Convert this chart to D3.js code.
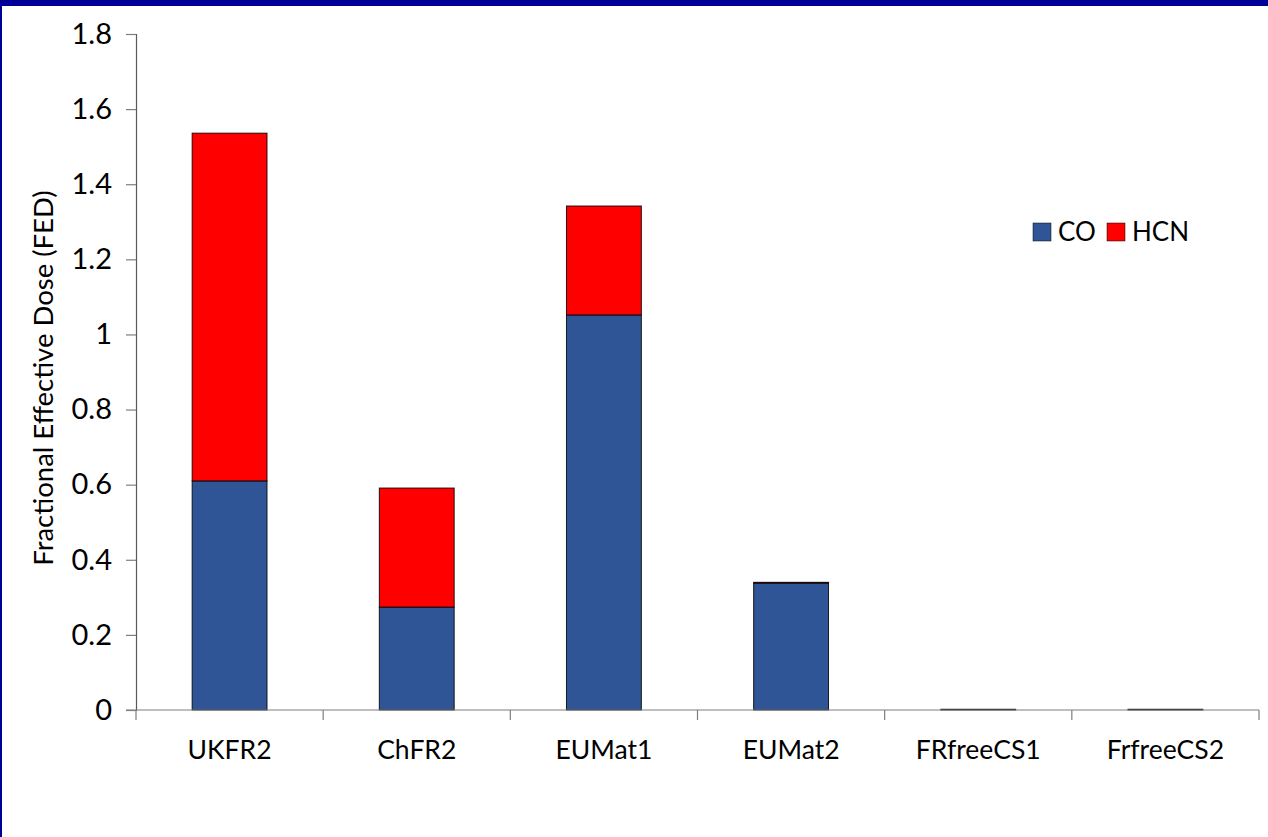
<!DOCTYPE html>
<html>
<head>
<meta charset="utf-8">
<script src="https://cdn.jsdelivr.net/npm/d3@7"></script>
<style>
  html, body { margin: 0; padding: 0; background: #fff; }
  svg { display: block; }
  text { font-family: Lato, "Open Sans", sans-serif; fill: #000; }
</style>
</head>
<body>
<svg id="chart" width="1268" height="837"></svg>
<script>
// Fractional Effective Dose per sample, split into CO and HCN contributions
const categories = ["UKFR2", "ChFR2", "EUMat1", "EUMat2", "FRfreeCS1", "FrfreeCS2"];
const coValues   = [0.610, 0.274, 1.052, 0.338, 0.002, 0.002];
const hcnValues  = [0.926, 0.317, 0.290, 0.002, 0.000, 0.000];
const seriesNames = ["CO", "HCN"];
const seriesColors = ["#2F5597", "#FF0000"];
const yTicks = [0, 0.2, 0.4, 0.6, 0.8, 1, 1.2, 1.4, 1.6, 1.8];

const svg = d3.select("#chart");
const W = 1268, H = 837;

// page frame: navy band on top and left edge
svg.append("rect").attr("x", 0).attr("y", 0).attr("width", W).attr("height", H).attr("fill", "#fff");
svg.append("rect").attr("x", 0).attr("y", 0).attr("width", W).attr("height", 6).attr("fill", "#000099");
svg.append("rect").attr("x", 0).attr("y", 0).attr("width", 2).attr("height", H).attr("fill", "#000099");

const plot = { left: 136, right: 1259, top: 34, bottom: 710 };

const x = d3.scaleBand().domain(categories).range([plot.left, plot.right]).paddingInner(0.6).paddingOuter(0.3);
const y = d3.scaleLinear().domain([0, 1.8]).range([plot.bottom, plot.top]);

const rows = categories.map((c, i) => ({ cat: c, CO: coValues[i], HCN: hcnValues[i] }));
const stacked = d3.stack().keys(seriesNames)(rows);

// stacked bars
svg.append("g").selectAll("g").data(stacked).join("g")
  .attr("fill", (d, i) => seriesColors[i])
  .selectAll("rect").data(d => d).join("rect")
  .attr("x", d => x(d.data.cat))
  .attr("width", x.bandwidth())
  .attr("y", d => y(d[1]))
  .attr("height", d => Math.max(0, y(d[0]) - y(d[1])))
  .attr("stroke", "#000")
  .attr("stroke-width", 1)
  .attr("stroke-opacity", d => (d[1] - d[0]) > 0 ? 0.85 : 0);

// y axis
const yAxis = svg.append("g").attr("transform", `translate(${plot.left},0)`)
  .call(d3.axisLeft(y).tickValues(yTicks).tickFormat(d3.format("~g")).tickSize(10).tickPadding(14));
yAxis.select(".domain").attr("stroke", "#595959").attr("stroke-width", 1.2);
yAxis.selectAll(".tick line").attr("stroke", "#7f7f7f").attr("stroke-width", 1.2);
yAxis.selectAll(".tick text").attr("font-size", 29).attr("font-family", "Lato, sans-serif").attr("fill", "#000");

// x axis: line from the 0 tick across, ticks at band boundaries
const xg = svg.append("g");
xg.append("line").attr("x1", plot.left - 10).attr("x2", plot.right).attr("y1", y(0)).attr("y2", y(0))
  .attr("stroke", "#7f7f7f").attr("stroke-width", 1.2);
const boundaries = d3.range(categories.length + 1).map(i => plot.left + i * (plot.right - plot.left) / categories.length);
xg.selectAll("line.tk").data(boundaries).join("line").attr("class", "tk")
  .attr("x1", d => d).attr("x2", d => d).attr("y1", y(0)).attr("y2", y(0) + 10)
  .attr("stroke", "#7f7f7f").attr("stroke-width", 1.2);
xg.selectAll("text").data(categories).join("text")
  .attr("x", d => x(d) + x.bandwidth() / 2)
  .attr("y", 759)
  .attr("text-anchor", "middle")
  .attr("font-size", 26.5)
  .text(d => d);

// y axis title
svg.append("text")
  .attr("transform", `translate(53,${(plot.top + plot.bottom) / 2 + 6}) rotate(-90)`)
  .attr("text-anchor", "middle")
  .attr("font-size", 27.5)
  .text("Fractional Effective Dose (FED)");

// legend
const legend = svg.append("g").attr("transform", "translate(1033,223)");
const legendX = [0, 74];
seriesNames.forEach((name, i) => {
  const g = legend.append("g").attr("transform", `translate(${legendX[i]},0)`);
  g.append("rect").attr("width", 18).attr("height", 18).attr("fill", seriesColors[i])
    .attr("stroke", "#000").attr("stroke-opacity", 0.6).attr("stroke-width", 0.8);
  g.append("text").attr("x", 25).attr("y", 18).attr("font-size", 26).text(name);
});
</script>
</body>
</html>
